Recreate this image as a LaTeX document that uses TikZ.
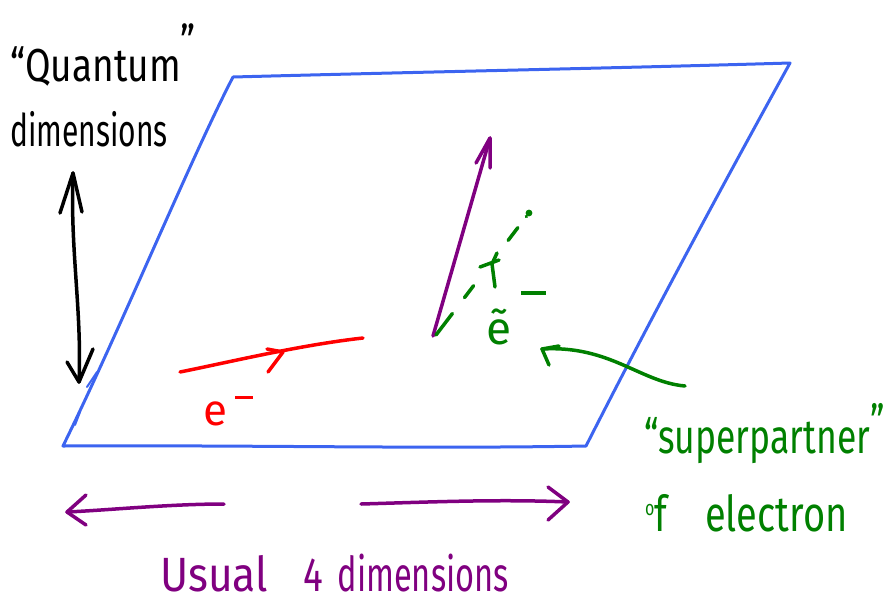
\documentclass[tikz,border=0pt]{standalone}
\usepackage{fontspec}
\setmainfont{Fira Sans}
\definecolor{pblue}{RGB}{60,100,240}
\definecolor{pgreen}{RGB}{0,128,0}
\definecolor{ppurple}{RGB}{128,0,128}
\definecolor{pred}{RGB}{255,0,0}
\begin{document}
\begin{tikzpicture}[x=1pt,y=-1pt, line cap=round, line join=round,
  hand/.style={line width=3.5pt},
  edge/.style={line width=3pt, draw=pblue},
  lbl/.style={inner sep=0pt, anchor=base west, transform shape},
]
\useasboundingbox (0,0) rectangle (893,603);

% parallelogram (the plane)
\coordinate (TL) at (233,77);
\coordinate (TR) at (790,63);
\coordinate (BR) at (586,446);
\coordinate (BL) at (63,446);
\draw[edge] (TL) .. controls (420,72) and (620,68) .. (TR)
  .. controls (720,190) and (650,320) .. (BR)
  .. controls (420,449) and (260,445) .. (BL)
  .. controls (120,330) and (190,160) .. (TL);
\coordinate (m1a) at (87,387); \coordinate (m1b) at (97,372);
\coordinate (m2a) at (75,425); \coordinate (m2b) at (80,412);
\draw[line width=2pt, pblue] (m1a) -- (m1b);
\draw[line width=2pt, pblue] (m2a) -- (m2b);

% quantum dimensions double arrow
\coordinate (qt) at (73,173);
\coordinate (qb) at (79,382);
\draw[hand, black] (qt) .. controls (70,250) and (82,310) .. (qb);
\draw[hand, black] (60,213) -- (qt) -- (82,212);
\draw[hand, black] (67,362) -- (qb) -- (93,349);

\node[lbl, font=\fontsize{37}{37}\selectfont, yscale=1.25] (quantum) at (10,81) {“Quantum\raisebox{18pt}{”}};
\node[lbl, font=\fontsize{30}{30}\selectfont, yscale=1.5] (qdims) at (10,146) {dimensions};

% electron (red)
\coordinate (es) at (180,372);
\coordinate (ee) at (363,338);
\coordinate (eh) at (283,352);
\draw[hand, pred] (es) .. controls (230,362) and (300,345) .. (ee);
\draw[hand, pred] (267,349) -- (eh) -- (268,372);
\node[lbl, pred, font=\fontsize{44}{44}\selectfont] (eminus) at (203,425)
  {e\hspace{8pt}\raisebox{26pt}{\rule{18pt}{3.2pt}}};

% purple spin arrow
\coordinate (ps) at (433,336);
\coordinate (pt) at (490,138);
\draw[hand, ppurple] (ps) -- (pt);
\draw[hand, ppurple] (476,163) -- (pt) -- (490,168);

% green dashed partner
\coordinate (gs) at (436,335);
\coordinate (ge) at (529,213);
\draw[hand, pgreen, dash pattern=on 27pt off 20pt on 15pt off 57pt on 16pt off 14pt on 0.1pt off 20pt] (gs) -- (ge);
\fill[pgreen] (ge) circle (3.4pt);
\draw[hand, pgreen] (480,267) -- (499,260);
\draw[hand, pgreen] (497,253) -- (492,264) -- (495,287);
\node[lbl, pgreen, font=\fontsize{46}{46}\selectfont] (etilde) at (486,344)
  {ẽ\hspace{10pt}\raisebox{49pt}{\rule{25pt}{4.5pt}}};

% green curved pointer
\coordinate (cs) at (685,386);
\coordinate (ct) at (542,349);
\draw[hand, pgreen] (cs) .. controls (640,382) and (610,345) .. (ct);
\draw[hand, pgreen] (559,346) -- (ct) -- (549,365);

\node[lbl, pgreen, font=\fontsize{35.5}{35.5}\selectfont, yscale=1.35] (superp) at (644,453)
  {“superpartner\raisebox{10pt}{”}};
\node[lbl, pgreen, font=\fontsize{38}{38}\selectfont, yscale=1.3] (ofel) at (645,531)
  {\raisebox{12pt}{\fontsize{16}{16}\selectfont o}f\hspace{38pt}electron};

% usual dimensions arrows
\coordinate (ul) at (67,512);
\coordinate (ule) at (224,504);
\coordinate (ur) at (568,502);
\coordinate (urs) at (361,504);
\draw[hand, ppurple] (ule) .. controls (170,504) and (110,510) .. (ul);
\draw[hand, ppurple] (86,495) -- (ul) -- (86,525);
\draw[hand, ppurple] (urs) .. controls (430,502) and (500,499) .. (ur);
\draw[hand, ppurple] (548,487) -- (ur) -- (548,520);

\node[lbl, ppurple, font=\fontsize{37}{37}\selectfont, yscale=1.3] (usual) at (160,591)
  {\scalebox{1.15}[1]{Usual}\hspace{36pt}4\hspace{14pt}\scalebox{0.88}[1]{dimensions}};
\end{tikzpicture}
\end{document}
